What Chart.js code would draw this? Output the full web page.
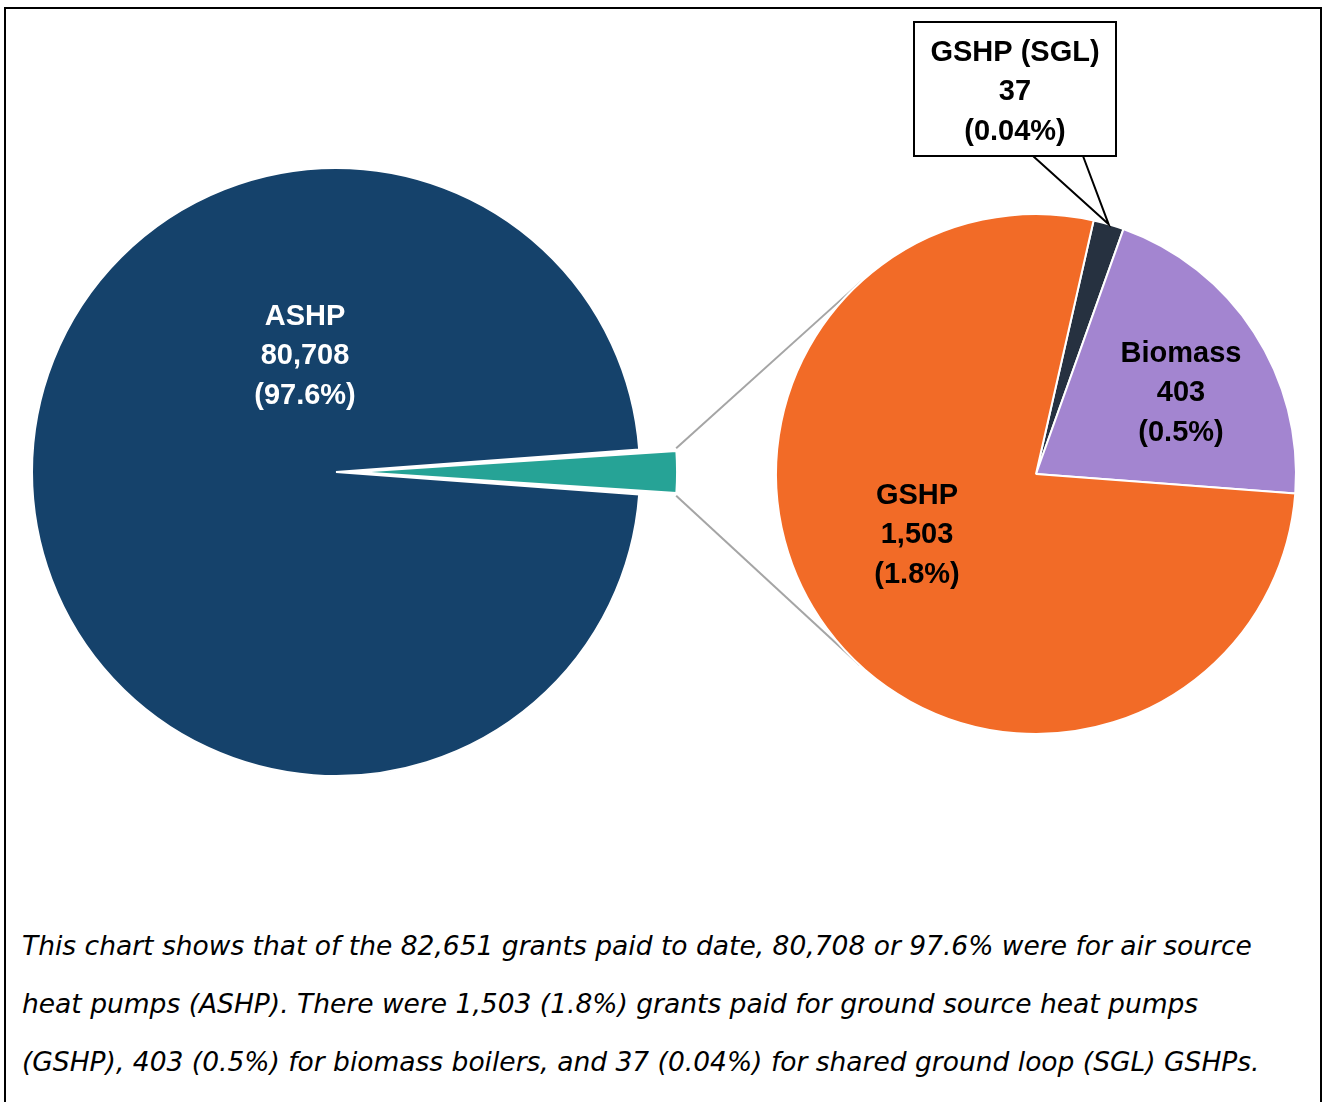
<!DOCTYPE html>
<html>
<head>
<meta charset="utf-8">
<script src="https://cdn.jsdelivr.net/npm/chart.js@4.4.1/dist/chart.umd.min.js"></script>
<style>
    html, body { margin: 0; padding: 0; background: #fff; overflow: hidden; }
    #frame {
        position: absolute; left: 4px; top: 7px; width: 1318px; height: 1100px;
        border: 2px solid #000; box-sizing: border-box;
    }
    #mainPie { position: absolute; left: -20px; top: 0; }
    #subPie { position: absolute; left: 0; top: 0; }
    .cap {
        position: absolute; left: 22px; white-space: nowrap;
        font: oblique 26.5px "DejaVu Sans", sans-serif; color: #000;
    }
</style>
</head>
<body>
<div id="frame"></div>
<canvas id="mainPie" width="1342" height="880"></canvas>
<canvas id="subPie" width="1322" height="880"></canvas>
<div class="cap" style="top:930px">This chart shows that of the 82,651 grants paid to date, 80,708 or 97.6% were for air source</div>
<div class="cap" style="top:988px">heat pumps (ASHP). There were 1,503 (1.8%) grants paid for ground source heat pumps</div>
<div class="cap" style="top:1046px">(GSHP), 403 (0.5%) for biomass boilers, and 37 (0.04%) for shared ground loop (SGL) GSHPs.</div>

<script>
// data
const mainLabels = ['ASHP', 'Other'];
const mainValues = [80708, 1943];
const mainPercents = ['97.6%', ''];
const mainColors = ['#15426B', '#26A396'];

const subLabels = ['GSHP (SGL)', 'Biomass', 'GSHP'];
const subValues = [37, 403, 1503];
const subPercents = ['0.04%', '0.5%', '1.8%'];
const subColors = ['#263140', '#A385D0', '#F26B27'];

const otherShare = mainValues[1] / (mainValues[0] + mainValues[1]);

const FONT = 'bold 29px "Liberation Sans", Arial, sans-serif';
const LINE_H = 39.5;

// label placement (baseline of the middle line) relative to pie centre
const mainLabelPos = [{ dx: -31, dy: -108, color: '#fff' }, null];
const subLabelPos = [
    { dx: -21, dy: -374, color: '#000', box: { left: -122, top: -452, w: 202, h: 134, legs: [18, 68] } },
    { dx: 145, dy: -73, color: '#000' },
    { dx: -119, dy: 69, color: '#000' }
];

function labelLines(label, value, pct) {
    return [label, value.toLocaleString('en-GB'), '(' + pct + ')'];
}

function makeLabelPlugin(labels, values, pcts, positions) {
    return {
        id: 'sliceLabels',
        afterDatasetsDraw(chart) {
            const ctx = chart.ctx;
            const arcs = chart.getDatasetMeta(0).data;
            ctx.save();
            ctx.font = FONT;
            ctx.textAlign = 'center';
            ctx.textBaseline = 'alphabetic';
            arcs.forEach((arc, i) => {
                const pos = positions[i];
                if (!pos) return;
                const cx = arc.x, cy = arc.y;
                if (pos.box) {
                    const b = pos.box;
                    const mid = (arc.startAngle + arc.endAngle) / 2;
                    const tx = cx + Math.cos(mid) * arc.outerRadius;
                    const ty = cy + Math.sin(mid) * arc.outerRadius;
                    const bx = cx + b.left + b.w / 2;
                    ctx.strokeStyle = '#000';
                    ctx.lineWidth = 2;
                    ctx.beginPath();
                    ctx.moveTo(bx + b.legs[0], cy + b.top + b.h);
                    ctx.lineTo(tx, ty);
                    ctx.lineTo(bx + b.legs[1], cy + b.top + b.h);
                    ctx.stroke();
                    ctx.fillStyle = '#fff';
                    ctx.fillRect(cx + b.left, cy + b.top, b.w, b.h);
                    ctx.strokeRect(cx + b.left, cy + b.top, b.w, b.h);
                }
                ctx.fillStyle = pos.color;
                labelLines(labels[i], values[i], pcts[i]).forEach((t, k) => {
                    ctx.fillText(t, cx + pos.dx, cy + pos.dy + (k - 1) * LINE_H);
                });
            });
            ctx.restore();
        }
    };
}

const mainCanvas = document.getElementById('mainPie');
const subCanvas = document.getElementById('subPie');

const mainChart = new Chart(mainCanvas, {
    type: 'pie',
    data: {
        labels: mainLabels,
        datasets: [{
            data: mainValues,
            backgroundColor: mainColors,
            borderColor: '#fff',
            borderWidth: 2,
            offset: [0, 80]
        }]
    },
    options: {
        responsive: false,
        animation: false,
        rotation: 90 + otherShare * 180,
        layout: { padding: { left: 11, top: 127, right: 641, bottom: 63 } },
        plugins: { legend: { display: false }, tooltip: { enabled: false } }
    },
    plugins: [makeLabelPlugin(mainLabels, mainValues, mainPercents, mainLabelPos)]
});

// lines joining the exploded "other" slice to the second pie (tangents)
const connectorPlugin = {
    id: 'connector',
    beforeDatasetsDraw(chart) {
        const other = mainChart.getDatasetMeta(0).data[1];
        const sub = chart.getDatasetMeta(0).data[0];
        if (!other || !sub) return;
        const shiftX = mainCanvas.offsetLeft - subCanvas.offsetLeft;
        const shiftY = mainCanvas.offsetTop - subCanvas.offsetTop;
        // Chart.js moves an exploded arc by offset/4 and grows it a little
        const mid = (other.startAngle + other.endAngle) / 2;
        const t = (other.options.offset || 0) / 4;
        const grow = t * (1 - Math.sin(Math.min(Math.PI, other.circumference)));
        const ox = other.x + shiftX + Math.cos(mid) * t;
        const oy = other.y + shiftY + Math.sin(mid) * t;
        const r = other.outerRadius + grow;
        const R = sub.outerRadius;
        const ctx = chart.ctx;
        ctx.save();
        ctx.strokeStyle = '#A5A5A5';
        ctx.lineWidth = 2;
        [[other.startAngle, 1], [other.endAngle, -1]].forEach(([a, s]) => {
            const px = ox + Math.cos(a) * r;
            const py = oy + Math.sin(a) * r;
            const d = Math.hypot(px - sub.x, py - sub.y);
            const theta = Math.atan2(py - sub.y, px - sub.x);
            const ang = theta + s * Math.acos(R / d);
            ctx.beginPath();
            ctx.moveTo(px, py);
            ctx.lineTo(sub.x + Math.cos(ang) * R, sub.y + Math.sin(ang) * R);
            ctx.stroke();
        });
        ctx.restore();
    }
};

new Chart(subCanvas, {
    type: 'pie',
    data: {
        labels: subLabels,
        datasets: [{
            data: subValues,
            backgroundColor: subColors,
            borderColor: '#fff',
            borderWidth: 2
        }]
    },
    options: {
        responsive: false,
        animation: false,
        rotation: 12.8,
        layout: { padding: { left: 775, top: 213, right: 25, bottom: 145 } },
        plugins: { legend: { display: false }, tooltip: { enabled: false } }
    },
    plugins: [connectorPlugin, makeLabelPlugin(subLabels, subValues, subPercents, subLabelPos)]
});
</script>
</body>
</html>
